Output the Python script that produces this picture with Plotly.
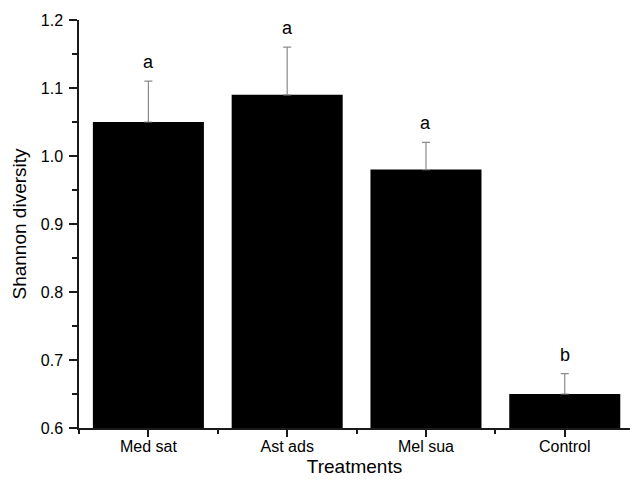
import plotly.graph_objects as go

# Shannon diversity per treatment, with upper standard errors and significance letters
treatments = ["Med sat", "Ast ads", "Mel sua", "Control"]
diversity = [1.05, 1.09, 0.98, 0.65]
std_err = [0.06, 0.07, 0.04, 0.03]
letters = ["a", "a", "a", "b"]
y_ticks = [0.6, 0.7, 0.8, 0.9, 1.0, 1.1, 1.2]

x_pos = list(range(len(treatments)))
font_family = "Liberation Sans, Arial, sans-serif"
axis_color = "#1a1a1a"

fig = go.Figure()
fig.add_trace(go.Bar(
    x=x_pos,
    y=diversity,
    width=0.8,
    marker=dict(color="black", line=dict(width=0)),
    error_y=dict(type="data", array=std_err, arrayminus=[0] * len(std_err),
                 symmetric=False, color="#8a8a8a", thickness=1.2, width=4),
    showlegend=False,
))

for xi, yi, ei, lab in zip(x_pos, diversity, std_err, letters):
    fig.add_annotation(x=xi, y=yi + ei, text=lab, showarrow=False,
                       yanchor="bottom", yshift=7,
                       font=dict(family=font_family, size=18, color="black"))

fig.update_layout(
    width=630, height=484,
    margin=dict(l=79, r=0, t=20, b=56),
    paper_bgcolor="white", plot_bgcolor="white",
    font=dict(family=font_family, color="black"),
    bargap=0.2,
)

fig.update_xaxes(
    range=[-0.5, 3.47],
    tickmode="array", tickvals=x_pos, ticktext=treatments,
    tickfont=dict(size=16),
    ticks="outside", ticklen=7, tickwidth=1.5, tickcolor=axis_color,
    ticklabelstandoff=-4,
    showline=True, linecolor=axis_color, linewidth=1.5,
    showgrid=False, zeroline=False,
    minor=dict(dtick=0.5, tick0=0, ticks="outside", ticklen=4,
               tickwidth=1.5, tickcolor=axis_color, showgrid=False),
    title=dict(text="Treatments", font=dict(size=19), standoff=6),
)

fig.update_yaxes(
    range=[0.6, 1.2],
    tickmode="array", tickvals=y_ticks,
    ticktext=[f"{v:.1f}" for v in y_ticks],
    tickfont=dict(size=16),
    ticks="outside", ticklen=8, tickwidth=1.5, tickcolor=axis_color,
    ticklabelstandoff=3,
    showline=True, linecolor=axis_color, linewidth=1.5,
    showgrid=False, zeroline=False,
    minor=dict(dtick=0.05, tick0=0.6, ticks="outside", ticklen=5,
               tickwidth=1.5, tickcolor=axis_color, showgrid=False),
    title=dict(text="Shannon diversity", font=dict(size=19), standoff=9),
)

fig.write_html("out.html")
